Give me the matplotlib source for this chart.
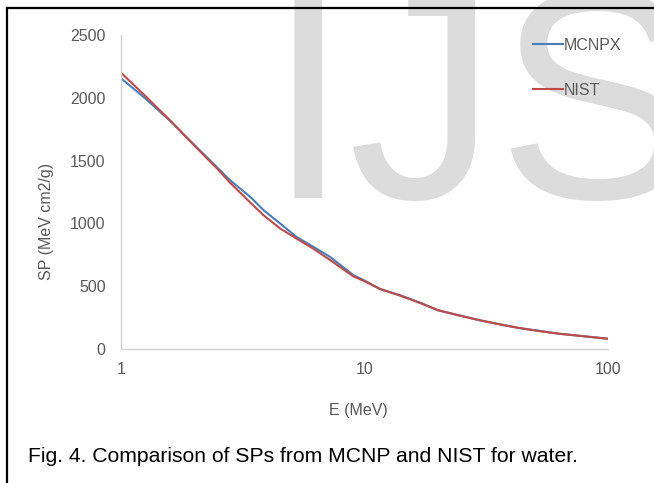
"""
Stopping power of water: MCNPX vs NIST (Fig. 4)
"""

import matplotlib
matplotlib.use('Agg')
import matplotlib.pyplot as plt
import matplotlib.ticker as mtick
from matplotlib.lines import Line2D

plt.rcParams['font.family'] = ['Liberation Sans', 'DejaVu Sans']

# energy grid (MeV)
energy = [1, 1.25, 1.6, 2, 2.5, 2.8, 3.4, 3.85, 4.5, 5.25, 6.15, 7.2, 9, 10,
          11.6, 14, 17, 20, 25, 30, 36, 43, 52, 63, 77, 100]
sp_nist = [2200, 2020, 1815, 1620, 1430, 1325, 1165, 1065, 960, 880, 800, 710,
           578, 540, 478, 425, 365, 310, 262, 228, 195, 168, 143, 122, 104, 82]
sp_mcnpx = [2155, 2000, 1812, 1625, 1440, 1345, 1210, 1105, 1000, 893, 815, 735,
            588, 545, 476, 428, 367, 308, 264, 226, 197, 167, 145, 121, 105, 81]

y_ticks = [0, 500, 1000, 1500, 2000, 2500]
x_ticks = [1, 10, 100]

GRAY = '#595959'
W, H = 654, 483

fig = plt.figure(figsize=(W / 100, H / 100), dpi=100)

# faint watermark behind the chart
fig.text(267 / W, 1 - 198 / H, 'IJS', fontsize=214, color='#dcdcdc',
         ha='left', va='baseline', zorder=-1)

ax = fig.add_axes([121 / W, 1 - 349 / H, (608 - 121) / W, (349 - 35) / H])
ax.patch.set_alpha(0)

ax.plot(energy, sp_mcnpx, color='#4A7EBB', linewidth=1.5, label='MCNPX')
ax.plot(energy, sp_nist, color='#BE4B48', linewidth=1.5, label='NIST')

ax.set_xscale('log')
ax.set_xlim(1, 100)
ax.set_ylim(0, 2500)
ax.set_xticks(x_ticks)
ax.xaxis.set_major_formatter(mtick.FuncFormatter(lambda v, p: '{:g}'.format(v)))
ax.xaxis.set_minor_locator(mtick.NullLocator())
ax.set_yticks(y_ticks)

for side in ['top', 'right']:
    ax.spines[side].set_visible(False)
for side in ['left', 'bottom']:
    ax.spines[side].set_color('#d0d0d0')
    ax.spines[side].set_linewidth(0.9)

ax.tick_params(axis='y', length=0, pad=11, labelsize=11.5, labelcolor=GRAY)
ax.tick_params(axis='x', length=0, pad=9, labelsize=11.5, labelcolor=GRAY)

fig.text(358 / W, 1 - 411 / H, 'E (MeV)', fontsize=11.5, color=GRAY,
         ha='center', va='center')
fig.text(46 / W, 1 - 221 / H, 'SP (MeV cm2/g)', fontsize=11.5, color=GRAY,
         ha='center', va='center', rotation=90)

leg = ax.legend(loc='upper left', bbox_to_anchor=(533 / W, 1 - 38 / H),
                bbox_transform=fig.transFigure, frameon=False, fontsize=11.5,
                handlelength=1.85, handletextpad=0.1, labelspacing=1.85,
                borderaxespad=0, borderpad=0)
for t in leg.get_texts():
    t.set_color(GRAY)

fig.text(28 / W, 1 - 457 / H,
         'Fig. 4. Comparison of SPs from MCNP and NIST for water.',
         fontsize=15.2, color='black', ha='left', va='center')

# page frame (left and top edges visible)
fig.add_artist(Line2D([7 / W, 7 / W], [0, 1 - 8 / H], color='black',
                      linewidth=1.6, transform=fig.transFigure))
fig.add_artist(Line2D([7 / W, 1], [1 - 8 / H, 1 - 8 / H], color='black',
                      linewidth=1.6, transform=fig.transFigure))

fig.savefig('out.png', dpi=100)
